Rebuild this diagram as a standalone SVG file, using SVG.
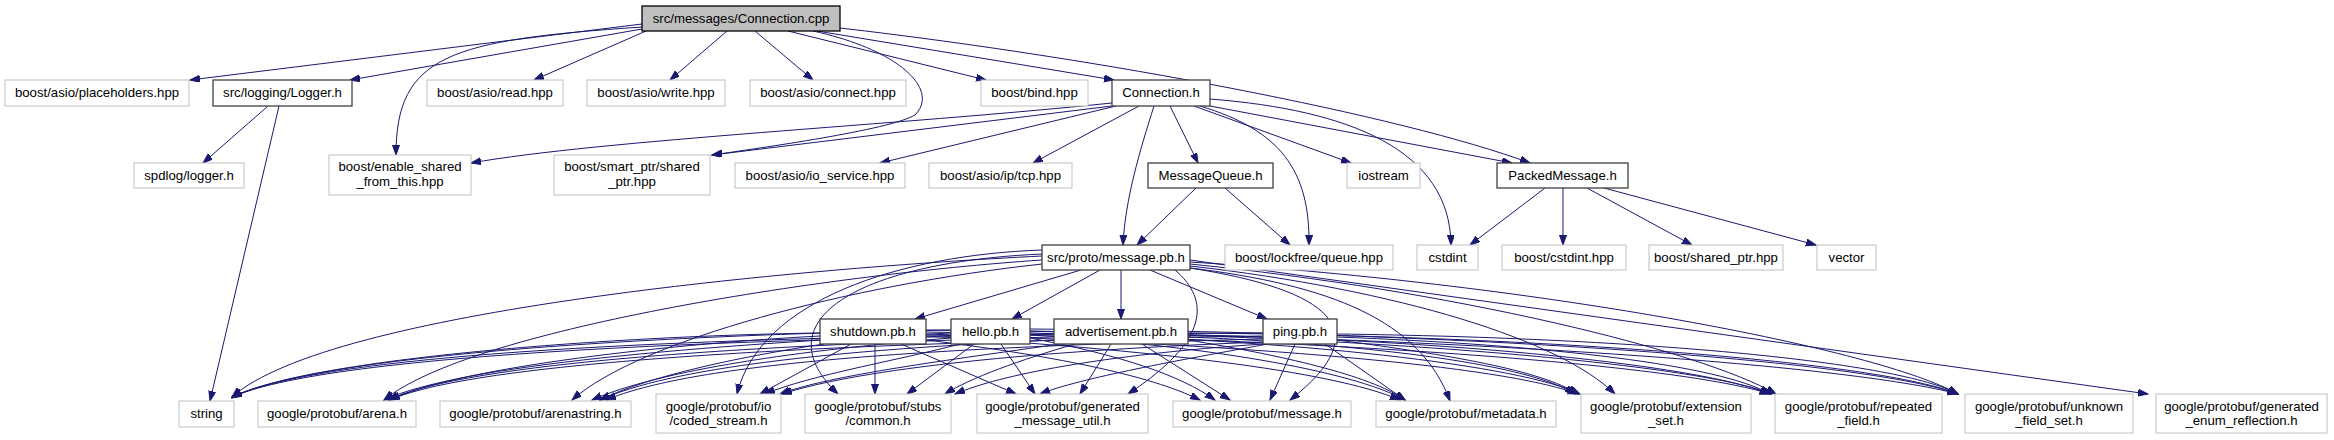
<svg xmlns="http://www.w3.org/2000/svg" width="2334" height="440" viewBox="0 0 2334 440">
<defs>
<marker id="ah" markerUnits="userSpaceOnUse" markerWidth="11" markerHeight="8" refX="10" refY="3.5" orient="auto">
<path d="M0,0 L10,3.5 L0,7 z" fill="#191970" stroke="#191970" stroke-width="1"/>
</marker>
</defs>
<style>
.n rect{fill:#ffffff;stroke:#bfbfbf;stroke-width:1}
.d rect{fill:#ffffff;stroke:#404040;stroke-width:1.3}
.r rect{fill:#bfbfbf;stroke:#000000;stroke-width:1.3}
text{font-family:"Liberation Sans",Arial,sans-serif;font-size:13.2px;fill:#000000;text-anchor:middle}
#edges path{fill:none;stroke:#191970;stroke-width:1;marker-end:url(#ah)}
</style>
<rect width="2334" height="440" fill="#ffffff"/>
<g id="edges">
<path d="M642,24 L190,80"/>
<path d="M642,29 L350,80"/>
<path d="M642,27 C450,40 396,55 396,155"/>
<path d="M646,31 L534,80"/>
<path d="M727,31 L670,80"/>
<path d="M755,31 L813,80"/>
<path d="M813,31 C900,50 940,90 915,115 C890,130 760,148 712,155"/>
<path d="M788,31 L986,80"/>
<path d="M817,31 L1114,80"/>
<path d="M840,28 C1100,58 1400,115 1530,163"/>
<path d="M268,106 L203,163"/>
<path d="M279,106 L210,401"/>
<path d="M1112,103 C900,125 600,140 471,163"/>
<path d="M1112,106 L712,155"/>
<path d="M1116,106 L880,163"/>
<path d="M1139,106 L1033,163"/>
<path d="M1154,106 C1140,150 1125,200 1123,245"/>
<path d="M1170,106 L1198,163"/>
<path d="M1200,106 C1280,130 1310,170 1309,245"/>
<path d="M1194,106 L1351,163"/>
<path d="M1210,106 L1512,163"/>
<path d="M1210,99 C1350,110 1450,150 1451,245"/>
<path d="M1196,188 L1137,245"/>
<path d="M1225,188 L1290,245"/>
<path d="M1545,188 L1470,245"/>
<path d="M1563,188 L1563,245"/>
<path d="M1587,188 L1692,245"/>
<path d="M1604,188 L1816,245"/>
<path d="M1081,270 L915,319"/>
<path d="M1100,270 L1012,319"/>
<path d="M1121,270 L1121,319"/>
<path d="M1150,270 L1267,319"/>
<path d="M1042,256 C800,268 330,310 232,397"/>
<path d="M1042,260 C820,275 470,330 384,400"/>
<path d="M1042,264 C850,285 640,340 572,400"/>
<path d="M1042,250 C900,255 760,300 737,394"/>
<path d="M1042,254 C860,262 760,320 838,394"/>
<path d="M1175,270 C1210,300 1210,340 1128,394"/>
<path d="M1190,268 C1330,290 1380,330 1290,400"/>
<path d="M1190,268 C1330,285 1420,320 1450,401"/>
<path d="M1190,266 C1400,290 1560,340 1615,394"/>
<path d="M1190,264 C1450,290 1700,350 1776,394"/>
<path d="M1190,262 C1550,285 1880,350 1958,394"/>
<path d="M1190,260 L2148,394"/>
<path d="M820,333 C600,336 300,360 232,398"/>
<path d="M820,336 C650,345 450,370 390,400"/>
<path d="M824,344 C750,355 650,375 600,400"/>
<path d="M851,344 L760,394"/>
<path d="M875,344 L875,394"/>
<path d="M901,344 L1016,394"/>
<path d="M926,340 C1050,355 1150,375 1200,400"/>
<path d="M926,336 C1150,350 1330,370 1400,400"/>
<path d="M926,334 C1250,345 1500,365 1578,394"/>
<path d="M926,332 C1350,340 1680,365 1770,394"/>
<path d="M926,330 C1450,335 1850,365 1958,394"/>
<path d="M951,330 C650,335 320,355 232,397"/>
<path d="M951,333 C700,345 460,365 384,400"/>
<path d="M951,338 C800,350 660,370 592,400"/>
<path d="M960,344 C900,360 810,375 765,394"/>
<path d="M974,344 L907,394"/>
<path d="M1001,344 L1035,394"/>
<path d="M1030,338 C1120,355 1180,375 1215,400"/>
<path d="M1030,335 C1200,345 1350,370 1405,400"/>
<path d="M1030,333 C1300,340 1520,365 1580,394"/>
<path d="M1030,331 C1400,338 1700,365 1772,394"/>
<path d="M1030,329 C1500,333 1870,362 1958,394"/>
<path d="M1054,334 C700,338 330,352 232,397"/>
<path d="M1054,337 C750,345 470,362 388,400"/>
<path d="M1054,340 C830,350 670,368 600,400"/>
<path d="M1060,344 C950,360 830,375 780,394"/>
<path d="M1075,344 C1020,360 970,378 945,394"/>
<path d="M1111,344 L1080,394"/>
<path d="M1142,344 L1230,400"/>
<path d="M1188,340 C1280,355 1370,375 1405,400"/>
<path d="M1188,337 C1380,345 1530,365 1575,394"/>
<path d="M1188,335 C1450,340 1700,365 1770,394"/>
<path d="M1188,333 C1550,336 1880,362 1958,394"/>
<path d="M1263,333 C800,335 340,350 232,397"/>
<path d="M1263,336 C850,342 480,360 390,400"/>
<path d="M1263,339 C900,348 690,365 606,400"/>
<path d="M1263,342 C1000,352 850,372 782,394"/>
<path d="M1263,344 C1100,355 1000,375 955,394"/>
<path d="M1268,344 C1180,360 1080,378 1040,394"/>
<path d="M1295,344 L1270,400"/>
<path d="M1325,344 L1405,400"/>
<path d="M1337,340 C1450,355 1540,370 1578,394"/>
<path d="M1337,337 C1550,345 1720,365 1770,394"/>
<path d="M1337,334 C1650,338 1900,362 1958,394"/>
</g>
<g id="node_root" class="r"><rect x="642" y="6" width="198" height="25"/><text x="741" y="23">src/messages/Connection.cpp</text></g>
<g id="node_placeholders" class="n"><rect x="5" y="80" width="184" height="26"/><text x="97" y="97">boost/asio/placeholders.hpp</text></g>
<g id="node_logger" class="d"><rect x="213" y="80" width="139" height="26"/><text x="282.5" y="97">src/logging/Logger.h</text></g>
<g id="node_read" class="n"><rect x="427" y="80" width="136" height="26"/><text x="495" y="97">boost/asio/read.hpp</text></g>
<g id="node_write" class="n"><rect x="587" y="80" width="138" height="26"/><text x="656" y="97">boost/asio/write.hpp</text></g>
<g id="node_connect" class="n"><rect x="750" y="80" width="156" height="26"/><text x="828" y="97">boost/asio/connect.hpp</text></g>
<g id="node_bind" class="n"><rect x="981" y="80" width="107" height="26"/><text x="1034.5" y="97">boost/bind.hpp</text></g>
<g id="node_connection_h" class="d"><rect x="1112" y="80" width="98" height="26"/><text x="1161" y="97">Connection.h</text></g>
<g id="node_spdlog" class="n"><rect x="134" y="163" width="110" height="25"/><text x="189" y="180">spdlog/logger.h</text></g>
<g id="node_enable_shared" class="n"><rect x="329" y="155" width="142" height="40"/><text x="400" y="171">boost/enable_shared</text><text x="400" y="186">_from_this.hpp</text></g>
<g id="node_smart_ptr" class="n"><rect x="554" y="155" width="156" height="40"/><text x="632" y="171">boost/smart_ptr/shared</text><text x="632" y="186">_ptr.hpp</text></g>
<g id="node_io_service" class="n"><rect x="735" y="163" width="170" height="25"/><text x="820" y="180">boost/asio/io_service.hpp</text></g>
<g id="node_tcp" class="n"><rect x="929" y="163" width="143" height="25"/><text x="1000.5" y="180">boost/asio/ip/tcp.hpp</text></g>
<g id="node_messagequeue" class="d"><rect x="1148" y="163" width="125" height="25"/><text x="1210.5" y="180">MessageQueue.h</text></g>
<g id="node_iostream" class="n"><rect x="1347" y="163" width="73" height="25"/><text x="1383.5" y="180">iostream</text></g>
<g id="node_packedmessage" class="d"><rect x="1497" y="163" width="131" height="25"/><text x="1562.5" y="180">PackedMessage.h</text></g>
<g id="node_message_pb" class="d"><rect x="1042" y="245" width="148" height="25"/><text x="1116" y="262">src/proto/message.pb.h</text></g>
<g id="node_lockfree" class="n"><rect x="1225" y="245" width="168" height="25"/><text x="1309" y="262">boost/lockfree/queue.hpp</text></g>
<g id="node_cstdint" class="n"><rect x="1417" y="245" width="61" height="25"/><text x="1447.5" y="262">cstdint</text></g>
<g id="node_boost_cstdint" class="n"><rect x="1502" y="245" width="124" height="25"/><text x="1564" y="262">boost/cstdint.hpp</text></g>
<g id="node_boost_shared_ptr" class="n"><rect x="1649" y="245" width="134" height="25"/><text x="1716" y="262">boost/shared_ptr.hpp</text></g>
<g id="node_vector" class="n"><rect x="1817" y="245" width="59" height="25"/><text x="1846.5" y="262">vector</text></g>
<g id="node_shutdown" class="d"><rect x="820" y="319" width="106" height="25"/><text x="873" y="336">shutdown.pb.h</text></g>
<g id="node_hello" class="d"><rect x="951" y="319" width="79" height="25"/><text x="990.5" y="336">hello.pb.h</text></g>
<g id="node_advertisement" class="d"><rect x="1054" y="319" width="134" height="25"/><text x="1121" y="336">advertisement.pb.h</text></g>
<g id="node_ping" class="d"><rect x="1263" y="319" width="74" height="25"/><text x="1300" y="336">ping.pb.h</text></g>
<g id="node_string" class="n"><rect x="179" y="401" width="55" height="26"/><text x="206.5" y="418">string</text></g>
<g id="node_arena" class="n"><rect x="258" y="401" width="158" height="26"/><text x="337" y="418">google/protobuf/arena.h</text></g>
<g id="node_arenastring" class="n"><rect x="440" y="401" width="191" height="26"/><text x="535.5" y="418">google/protobuf/arenastring.h</text></g>
<g id="node_coded_stream" class="n"><rect x="656" y="394" width="125" height="39"/><text x="718.5" y="411">google/protobuf/io</text><text x="718.5" y="425">/coded_stream.h</text></g>
<g id="node_common" class="n"><rect x="805" y="394" width="146" height="39"/><text x="878" y="411">google/protobuf/stubs</text><text x="878" y="425">/common.h</text></g>
<g id="node_gen_msg_util" class="n"><rect x="977" y="394" width="171" height="39"/><text x="1062.5" y="411">google/protobuf/generated</text><text x="1062.5" y="425">_message_util.h</text></g>
<g id="node_message_h" class="n"><rect x="1173" y="401" width="178" height="26"/><text x="1262" y="418">google/protobuf/message.h</text></g>
<g id="node_metadata" class="n"><rect x="1376" y="401" width="180" height="26"/><text x="1466" y="418">google/protobuf/metadata.h</text></g>
<g id="node_extension_set" class="n"><rect x="1581" y="394" width="170" height="39"/><text x="1666" y="411">google/protobuf/extension</text><text x="1666" y="425">_set.h</text></g>
<g id="node_repeated_field" class="n"><rect x="1775" y="394" width="167" height="39"/><text x="1858.5" y="411">google/protobuf/repeated</text><text x="1858.5" y="425">_field.h</text></g>
<g id="node_unknown_field_set" class="n"><rect x="1965" y="394" width="168" height="39"/><text x="2049" y="411">google/protobuf/unknown</text><text x="2049" y="425">_field_set.h</text></g>
<g id="node_gen_enum_refl" class="n"><rect x="2156" y="394" width="171" height="39"/><text x="2241.5" y="411">google/protobuf/generated</text><text x="2241.5" y="425">_enum_reflection.h</text></g>
</svg>
